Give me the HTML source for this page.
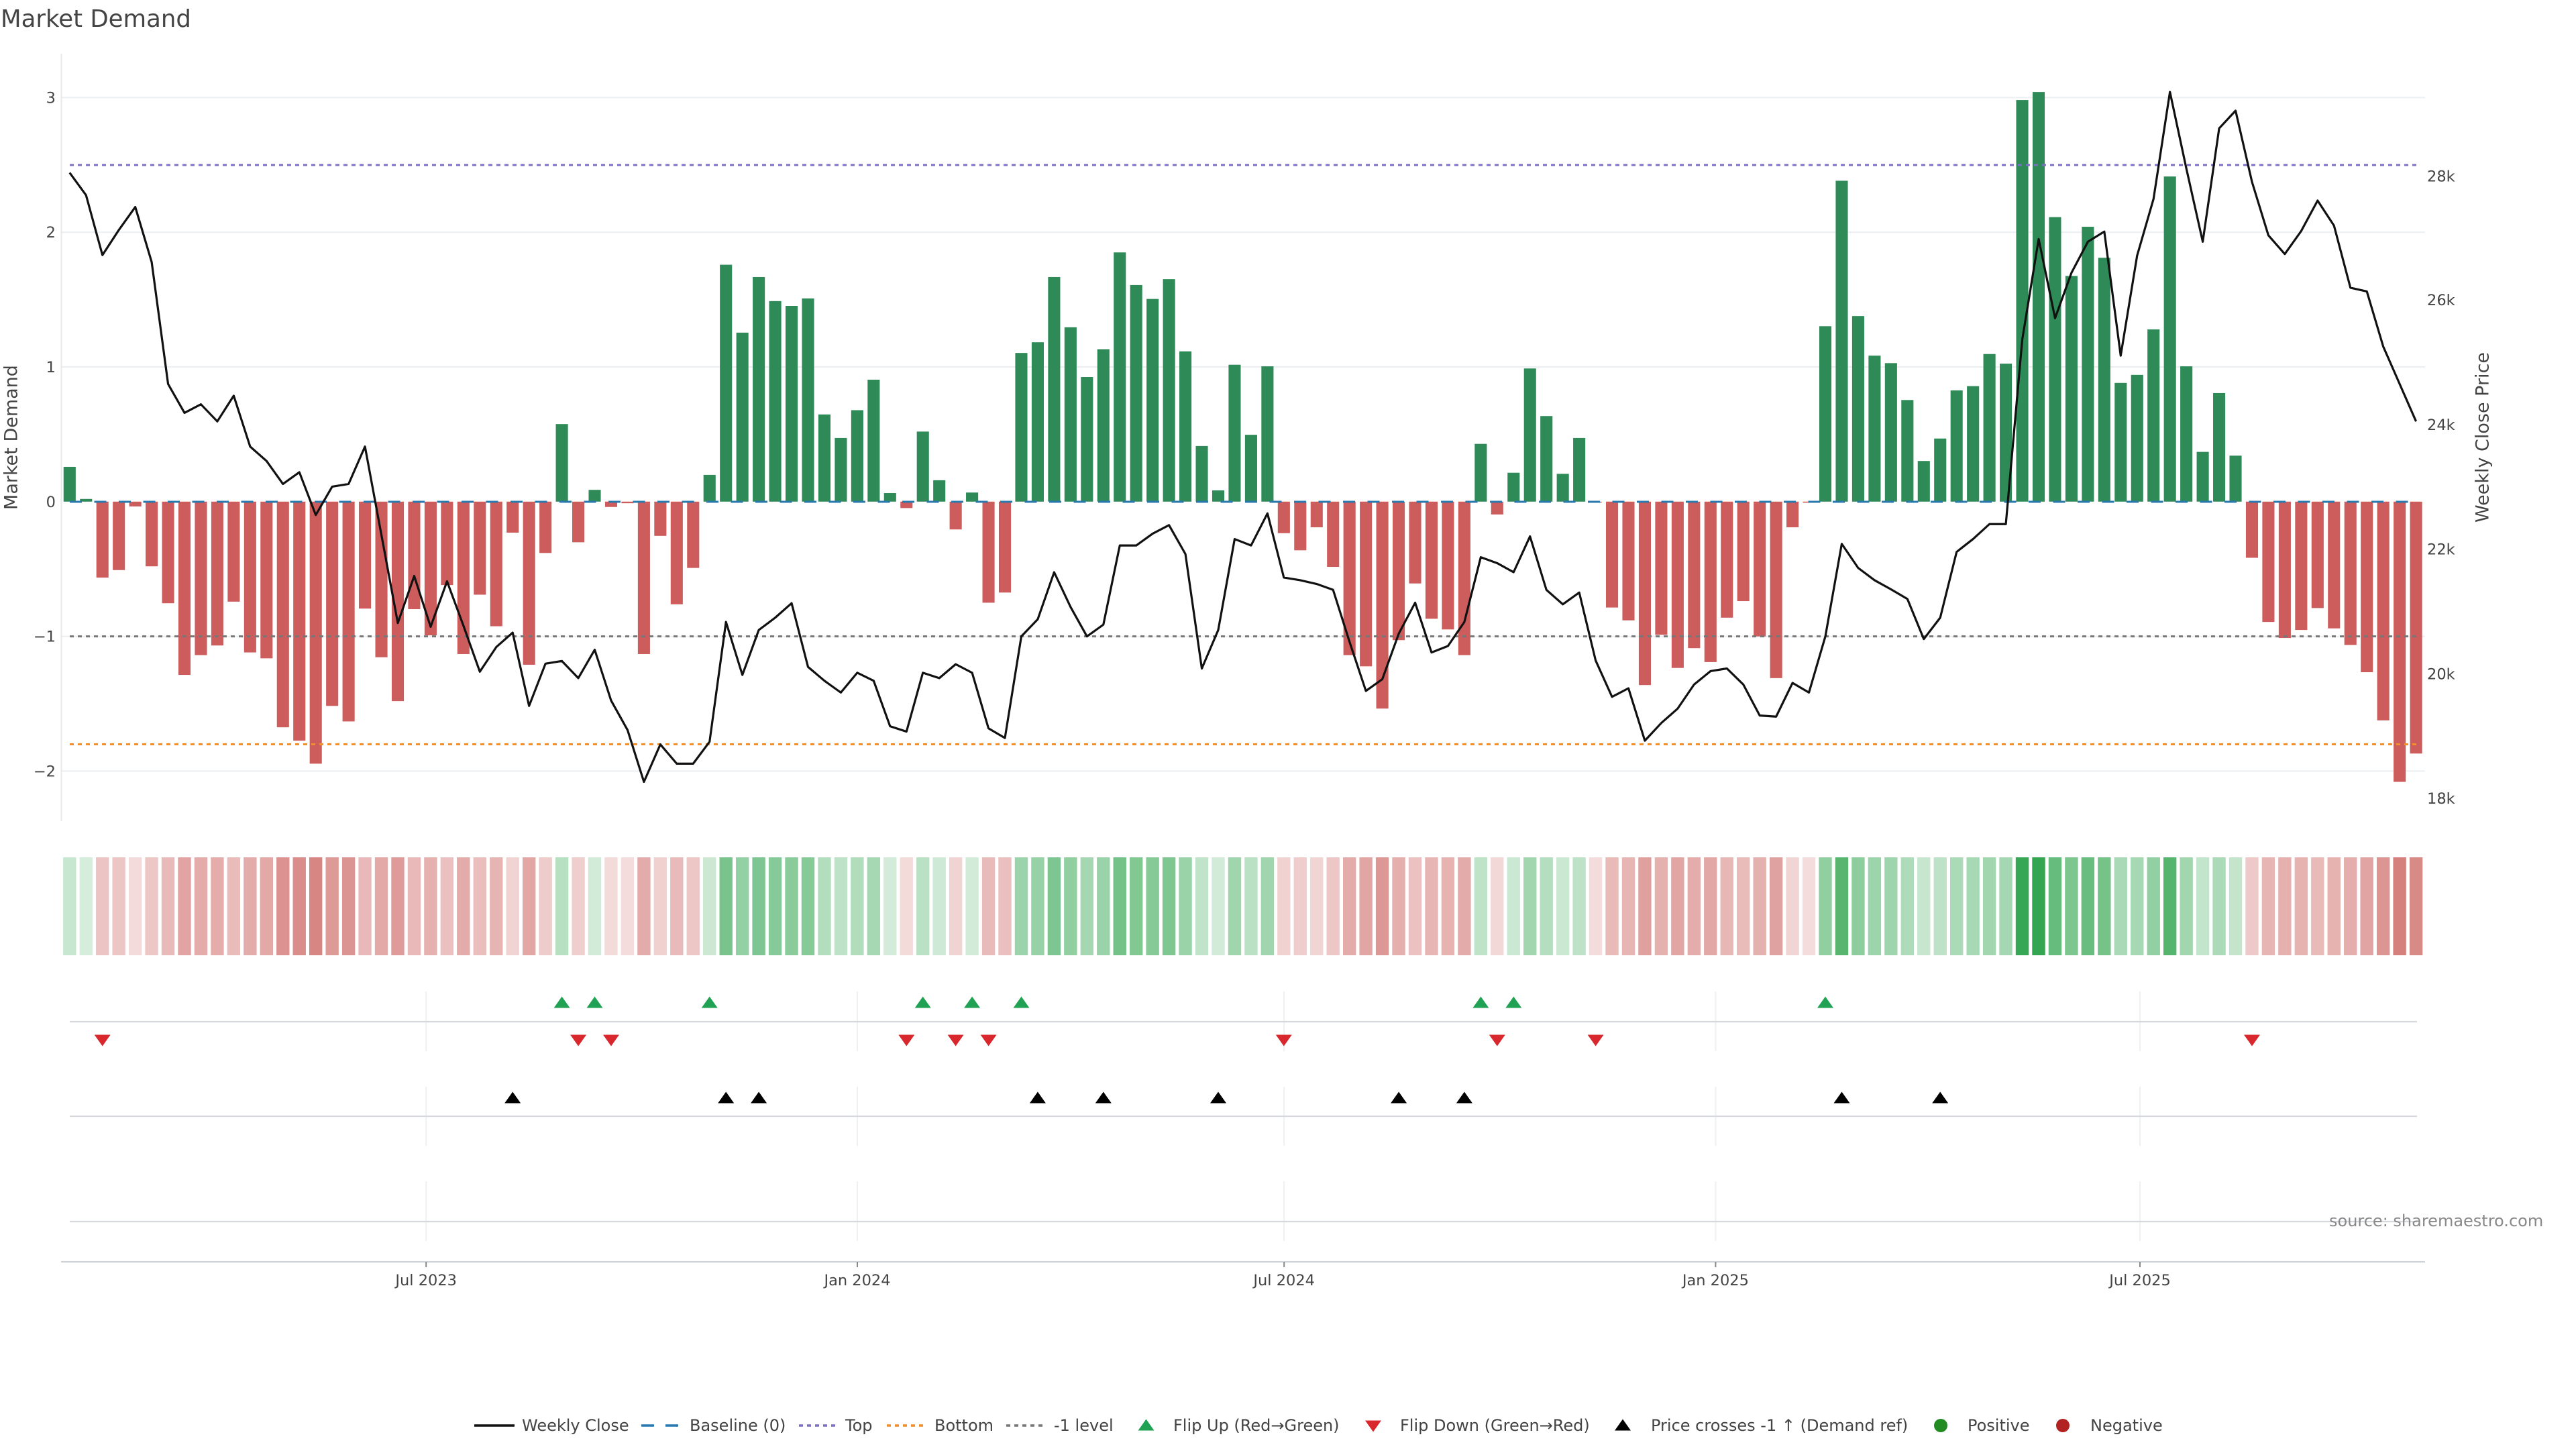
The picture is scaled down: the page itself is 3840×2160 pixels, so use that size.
<!DOCTYPE html>
<html><head><meta charset="utf-8"><style>
html,body{margin:0;padding:0;background:#fff}
svg{display:block}
text{font-family:"DejaVu Sans","Liberation Sans",sans-serif;fill:#444}
.g{fill:#2e8b57}.r{fill:#cd5c5c}
.hg{fill:#32a550}.hr{fill:#c65450}
</style></head><body>
<svg width="3840" height="2160" viewBox="0 0 3840 2160" xmlns="http://www.w3.org/2000/svg">
<defs>
<path id="tu" d="M-12,8.5L12,8.5L0,-8.5Z"/>
<path id="td" d="M-12,-8.5L12,-8.5L0,8.5Z"/>
</defs>
<rect width="3840" height="2160" fill="#fff"/>
<text x="1" y="40" font-size="35.5">Market Demand</text>

<!-- grid -->
<g stroke="#eceff2" stroke-width="2">
<line x1="91" y1="145.4" x2="3615" y2="145.4"/>
<line x1="91" y1="346.2" x2="3615" y2="346.2"/>
<line x1="91" y1="547" x2="3615" y2="547"/>
<line x1="91" y1="948.6" x2="3615" y2="948.6"/>
<line x1="91" y1="1149.4" x2="3615" y2="1149.4"/>
</g>
<line x1="91.5" y1="80" x2="91.5" y2="1224" stroke="#e6e8eb" stroke-width="2"/>

<!-- left ticks -->
<g font-size="22.5" text-anchor="end">
<text x="83" y="153.4">3</text>
<text x="83" y="354.2">2</text>
<text x="83" y="555">1</text>
<text x="83" y="755.8">0</text>
<text x="83" y="956.6">−1</text>
<text x="83" y="1157.4">−2</text>
</g>
<text transform="translate(17,652) rotate(-90)" text-anchor="middle" dominant-baseline="central" font-size="27">Market Demand</text>
<!-- right ticks -->
<g font-size="22.5">
<text x="3618" y="270.3">28k</text>
<text x="3618" y="455.2">26k</text>
<text x="3618" y="641">24k</text>
<text x="3618" y="826.7">22k</text>
<text x="3618" y="1012.5">20k</text>
<text x="3618" y="1198.2">18k</text>
</g>
<text transform="translate(3701,652) rotate(-90)" text-anchor="middle" dominant-baseline="central" font-size="27">Weekly Close Price</text>

<!-- bars -->
<g transform="translate(103.8,0) scale(24.46,0.797194)">
<rect class="g" x="-.37" y="873" width=".74" height="65"/>
<rect class="g" x=".63" y="933" width=".74" height="5"/>
<rect class="r" x="1.63" y="938" width=".74" height="142"/>
<rect class="r" x="2.63" y="938" width=".74" height="128"/>
<rect class="r" x="3.63" y="938" width=".74" height="9"/>
<rect class="r" x="4.63" y="938" width=".74" height="121"/>
<rect class="r" x="5.63" y="938" width=".74" height="190"/>
<rect class="r" x="6.63" y="938" width=".74" height="324"/>
<rect class="r" x="7.63" y="938" width=".74" height="287"/>
<rect class="r" x="8.63" y="938" width=".74" height="269"/>
<rect class="r" x="9.63" y="938" width=".74" height="187"/>
<rect class="r" x="10.63" y="938" width=".74" height="282"/>
<rect class="r" x="11.63" y="938" width=".74" height="293"/>
<rect class="r" x="12.63" y="938" width=".74" height="422"/>
<rect class="r" x="13.63" y="938" width=".74" height="447"/>
<rect class="r" x="14.63" y="938" width=".74" height="490"/>
<rect class="r" x="15.63" y="938" width=".74" height="382"/>
<rect class="r" x="16.63" y="938" width=".74" height="411"/>
<rect class="r" x="17.63" y="938" width=".74" height="200"/>
<rect class="r" x="18.63" y="938" width=".74" height="291"/>
<rect class="r" x="19.63" y="938" width=".74" height="373"/>
<rect class="r" x="20.63" y="938" width=".74" height="201"/>
<rect class="r" x="21.63" y="938" width=".74" height="250"/>
<rect class="r" x="22.63" y="938" width=".74" height="156"/>
<rect class="r" x="23.63" y="938" width=".74" height="285"/>
<rect class="r" x="24.63" y="938" width=".74" height="174"/>
<rect class="r" x="25.63" y="938" width=".74" height="233"/>
<rect class="r" x="26.63" y="938" width=".74" height="58"/>
<rect class="r" x="27.63" y="938" width=".74" height="305"/>
<rect class="r" x="28.63" y="938" width=".74" height="96"/>
<rect class="g" x="29.63" y="793" width=".74" height="145"/>
<rect class="r" x="30.63" y="938" width=".74" height="76"/>
<rect class="g" x="31.63" y="916" width=".74" height="22"/>
<rect class="r" x="32.63" y="938" width=".74" height="10"/>
<rect class="r" x="33.63" y="938" width=".74" height="3"/>
<rect class="r" x="34.63" y="938" width=".74" height="285"/>
<rect class="r" x="35.63" y="938" width=".74" height="64"/>
<rect class="r" x="36.63" y="938" width=".74" height="192"/>
<rect class="r" x="37.63" y="938" width=".74" height="124"/>
<rect class="g" x="38.63" y="888" width=".74" height="50"/>
<rect class="g" x="39.63" y="495" width=".74" height="443"/>
<rect class="g" x="40.63" y="622" width=".74" height="316"/>
<rect class="g" x="41.63" y="518" width=".74" height="420"/>
<rect class="g" x="42.63" y="563" width=".74" height="375"/>
<rect class="g" x="43.63" y="572" width=".74" height="366"/>
<rect class="g" x="44.63" y="558" width=".74" height="380"/>
<rect class="g" x="45.63" y="775" width=".74" height="163"/>
<rect class="g" x="46.63" y="819" width=".74" height="119"/>
<rect class="g" x="47.63" y="767" width=".74" height="171"/>
<rect class="g" x="48.63" y="710" width=".74" height="228"/>
<rect class="g" x="49.63" y="922" width=".74" height="16"/>
<rect class="r" x="50.63" y="938" width=".74" height="12"/>
<rect class="g" x="51.63" y="807" width=".74" height="131"/>
<rect class="g" x="52.63" y="898" width=".74" height="40"/>
<rect class="r" x="53.63" y="938" width=".74" height="52"/>
<rect class="g" x="54.63" y="921" width=".74" height="17"/>
<rect class="r" x="55.63" y="938" width=".74" height="189"/>
<rect class="r" x="56.63" y="938" width=".74" height="170"/>
<rect class="g" x="57.63" y="660" width=".74" height="278"/>
<rect class="g" x="58.63" y="640" width=".74" height="298"/>
<rect class="g" x="59.63" y="518" width=".74" height="420"/>
<rect class="g" x="60.63" y="612" width=".74" height="326"/>
<rect class="g" x="61.63" y="705" width=".74" height="233"/>
<rect class="g" x="62.63" y="653" width=".74" height="285"/>
<rect class="g" x="63.63" y="472" width=".74" height="466"/>
<rect class="g" x="64.63" y="533" width=".74" height="405"/>
<rect class="g" x="65.63" y="559" width=".74" height="379"/>
<rect class="g" x="66.63" y="522" width=".74" height="416"/>
<rect class="g" x="67.63" y="657" width=".74" height="281"/>
<rect class="g" x="68.63" y="834" width=".74" height="104"/>
<rect class="g" x="69.63" y="917" width=".74" height="21"/>
<rect class="g" x="70.63" y="682" width=".74" height="256"/>
<rect class="g" x="71.63" y="813" width=".74" height="125"/>
<rect class="g" x="72.63" y="685" width=".74" height="253"/>
<rect class="r" x="73.63" y="938" width=".74" height="59"/>
<rect class="r" x="74.63" y="938" width=".74" height="91"/>
<rect class="r" x="75.63" y="938" width=".74" height="48"/>
<rect class="r" x="76.63" y="938" width=".74" height="122"/>
<rect class="r" x="77.63" y="938" width=".74" height="287"/>
<rect class="r" x="78.63" y="938" width=".74" height="308"/>
<rect class="r" x="79.63" y="938" width=".74" height="387"/>
<rect class="r" x="80.63" y="938" width=".74" height="259"/>
<rect class="r" x="81.63" y="938" width=".74" height="153"/>
<rect class="r" x="82.63" y="938" width=".74" height="219"/>
<rect class="r" x="83.63" y="938" width=".74" height="239"/>
<rect class="r" x="84.63" y="938" width=".74" height="287"/>
<rect class="g" x="85.63" y="830" width=".74" height="108"/>
<rect class="r" x="86.63" y="938" width=".74" height="24"/>
<rect class="g" x="87.63" y="884" width=".74" height="54"/>
<rect class="g" x="88.63" y="689" width=".74" height="249"/>
<rect class="g" x="89.63" y="778" width=".74" height="160"/>
<rect class="g" x="90.63" y="886" width=".74" height="52"/>
<rect class="g" x="91.63" y="819" width=".74" height="119"/>
<rect class="r" x="92.63" y="938" width=".74" height="2"/>
<rect class="r" x="93.63" y="938" width=".74" height="198"/>
<rect class="r" x="94.63" y="938" width=".74" height="222"/>
<rect class="r" x="95.63" y="938" width=".74" height="343"/>
<rect class="r" x="96.63" y="938" width=".74" height="249"/>
<rect class="r" x="97.63" y="938" width=".74" height="311"/>
<rect class="r" x="98.63" y="938" width=".74" height="274"/>
<rect class="r" x="99.63" y="938" width=".74" height="300"/>
<rect class="r" x="100.63" y="938" width=".74" height="217"/>
<rect class="r" x="101.63" y="938" width=".74" height="186"/>
<rect class="r" x="102.63" y="938" width=".74" height="252"/>
<rect class="r" x="103.63" y="938" width=".74" height="330"/>
<rect class="r" x="104.63" y="938" width=".74" height="48"/>
<rect class="r" x="105.63" y="938" width=".74" height="2"/>
<rect class="g" x="106.63" y="610" width=".74" height="328"/>
<rect class="g" x="107.63" y="338" width=".74" height="600"/>
<rect class="g" x="108.63" y="591" width=".74" height="347"/>
<rect class="g" x="109.63" y="665" width=".74" height="273"/>
<rect class="g" x="110.63" y="679" width=".74" height="259"/>
<rect class="g" x="111.63" y="748" width=".74" height="190"/>
<rect class="g" x="112.63" y="862" width=".74" height="76"/>
<rect class="g" x="113.63" y="820" width=".74" height="118"/>
<rect class="g" x="114.63" y="730" width=".74" height="208"/>
<rect class="g" x="115.63" y="722" width=".74" height="216"/>
<rect class="g" x="116.63" y="662" width=".74" height="276"/>
<rect class="g" x="117.63" y="680" width=".74" height="258"/>
<rect class="g" x="118.63" y="187" width=".74" height="751"/>
<rect class="g" x="119.63" y="172" width=".74" height="766"/>
<rect class="g" x="120.63" y="406" width=".74" height="532"/>
<rect class="g" x="121.63" y="516" width=".74" height="422"/>
<rect class="g" x="122.63" y="424" width=".74" height="514"/>
<rect class="g" x="123.63" y="482" width=".74" height="456"/>
<rect class="g" x="124.63" y="716" width=".74" height="222"/>
<rect class="g" x="125.63" y="701" width=".74" height="237"/>
<rect class="g" x="126.63" y="616" width=".74" height="322"/>
<rect class="g" x="127.63" y="330" width=".74" height="608"/>
<rect class="g" x="128.63" y="685" width=".74" height="253"/>
<rect class="g" x="129.63" y="845" width=".74" height="93"/>
<rect class="g" x="130.63" y="735" width=".74" height="203"/>
<rect class="g" x="131.63" y="852" width=".74" height="86"/>
<rect class="r" x="132.63" y="938" width=".74" height="105"/>
<rect class="r" x="133.63" y="938" width=".74" height="225"/>
<rect class="r" x="134.63" y="938" width=".74" height="255"/>
<rect class="r" x="135.63" y="938" width=".74" height="240"/>
<rect class="r" x="136.63" y="938" width=".74" height="199"/>
<rect class="r" x="137.63" y="938" width=".74" height="237"/>
<rect class="r" x="138.63" y="938" width=".74" height="268"/>
<rect class="r" x="139.63" y="938" width=".74" height="319"/>
<rect class="r" x="140.63" y="938" width=".74" height="409"/>
<rect class="r" x="141.63" y="938" width=".74" height="524"/>
<rect class="r" x="142.63" y="938" width=".74" height="471"/>
</g>

<!-- reference lines -->
<line x1="104" y1="748" x2="3603" y2="748" stroke="#2b78ad" stroke-width="3" stroke-dasharray="18,18.5"/>
<line x1="104" y1="246" x2="3603" y2="246" stroke="#7b6fc6" stroke-width="3" stroke-dasharray="6,6"/>
<line x1="104" y1="1109.5" x2="3603" y2="1109.5" stroke="#f28e2b" stroke-width="3" stroke-dasharray="6,6"/>
<line x1="104" y1="948.6" x2="3603" y2="948.6" stroke="#777" stroke-width="3" stroke-dasharray="6,6"/>

<!-- price line -->
<g transform="translate(103.8,0) scale(24.46,0.797194)">
<polyline fill="none" stroke="#111" stroke-width="3.2" vector-effect="non-scaling-stroke" stroke-linejoin="round" points="0,323 1,365 2,477 3,430 4,387 5,490 6,718 7,772 8,756 9,788 10,740 11,835 12,862 13,905 14,883 15,963 16,910 17,905 18,835 19,1000 20,1165 21,1077 22,1172 23,1087 24,1170 25,1256 26,1210 27,1183 28,1320 29,1241 30,1236 31,1268 32,1215 33,1310 34,1365 35,1462 36,1392 37,1428 38,1428 39,1387 40,1163 41,1262 42,1178 43,1155 44,1128 45,1247 46,1273 47,1295 48,1258 49,1273 50,1358 51,1368 52,1258 53,1268 54,1242 55,1258 56,1362 57,1380 58,1190 59,1158 60,1070 61,1135 62,1190 63,1168 64,1020 65,1020 66,998 67,982 68,1036 69,1250 70,1178 71,1008 72,1020 73,960 74,1080 75,1085 76,1092 77,1103 78,1200 79,1292 80,1270 81,1185 82,1127 83,1220 84,1208 85,1163 86,1042 87,1053 88,1070 89,1003 90,1103 91,1130 92,1108 93,1235 94,1303 95,1287 96,1385 97,1352 98,1325 99,1280 100,1255 101,1250 102,1280 103,1338 104,1340 105,1277 106,1295 107,1190 108,1017 109,1062 110,1085 111,1102 112,1120 113,1195 114,1155 115,1032 116,1008 117,980 118,980 119,635 120,447 121,595 122,510 123,452 124,433 125,665 126,478 127,372 128,172 129,315 130,452 131,240 132,207 133,340 134,440 135,475 136,432 137,375 138,422 139,538 140,545 141,648 142,718 143,788"/>
</g>

<!-- heat strip -->
<g transform="translate(103.8,1278) scale(24.46,1)">
<rect class="hg" x="-.397" width=".793" height="146" opacity=".267"/>
<rect class="hg" x=".603" width=".793" height="146" opacity=".205"/>
<rect class="hr" x="1.603" width=".793" height="146" opacity=".347"/>
<rect class="hr" x="2.603" width=".793" height="146" opacity=".332"/>
<rect class="hr" x="3.603" width=".793" height="146" opacity=".209"/>
<rect class="hr" x="4.603" width=".793" height="146" opacity=".325"/>
<rect class="hr" x="5.603" width=".793" height="146" opacity=".396"/>
<rect class="hr" x="6.603" width=".793" height="146" opacity=".534"/>
<rect class="hr" x="7.603" width=".793" height="146" opacity=".496"/>
<rect class="hr" x="8.603" width=".793" height="146" opacity=".477"/>
<rect class="hr" x="9.603" width=".793" height="146" opacity=".393"/>
<rect class="hr" x="10.603" width=".793" height="146" opacity=".490"/>
<rect class="hr" x="11.603" width=".793" height="146" opacity=".502"/>
<rect class="hr" x="12.603" width=".793" height="146" opacity=".635"/>
<rect class="hr" x="13.603" width=".793" height="146" opacity=".660"/>
<rect class="hr" x="14.603" width=".793" height="146" opacity=".705"/>
<rect class="hr" x="15.603" width=".793" height="146" opacity=".593"/>
<rect class="hr" x="16.603" width=".793" height="146" opacity=".623"/>
<rect class="hr" x="17.603" width=".793" height="146" opacity=".406"/>
<rect class="hr" x="18.603" width=".793" height="146" opacity=".500"/>
<rect class="hr" x="19.603" width=".793" height="146" opacity=".584"/>
<rect class="hr" x="20.603" width=".793" height="146" opacity=".407"/>
<rect class="hr" x="21.603" width=".793" height="146" opacity=".458"/>
<rect class="hr" x="22.603" width=".793" height="146" opacity=".361"/>
<rect class="hr" x="23.603" width=".793" height="146" opacity=".494"/>
<rect class="hr" x="24.603" width=".793" height="146" opacity=".379"/>
<rect class="hr" x="25.603" width=".793" height="146" opacity=".440"/>
<rect class="hr" x="26.603" width=".793" height="146" opacity=".260"/>
<rect class="hr" x="27.603" width=".793" height="146" opacity=".514"/>
<rect class="hr" x="28.603" width=".793" height="146" opacity=".299"/>
<rect class="hg" x="29.603" width=".793" height="146" opacity=".349"/>
<rect class="hr" x="30.603" width=".793" height="146" opacity=".278"/>
<rect class="hg" x="31.603" width=".793" height="146" opacity=".223"/>
<rect class="hr" x="32.603" width=".793" height="146" opacity=".210"/>
<rect class="hr" x="33.603" width=".793" height="146" opacity=".203"/>
<rect class="hr" x="34.603" width=".793" height="146" opacity=".494"/>
<rect class="hr" x="35.603" width=".793" height="146" opacity=".266"/>
<rect class="hr" x="36.603" width=".793" height="146" opacity=".398"/>
<rect class="hr" x="37.603" width=".793" height="146" opacity=".328"/>
<rect class="hg" x="38.603" width=".793" height="146" opacity=".252"/>
<rect class="hg" x="39.603" width=".793" height="146" opacity=".656"/>
<rect class="hg" x="40.603" width=".793" height="146" opacity=".525"/>
<rect class="hg" x="41.603" width=".793" height="146" opacity=".633"/>
<rect class="hg" x="42.603" width=".793" height="146" opacity=".586"/>
<rect class="hg" x="43.603" width=".793" height="146" opacity=".577"/>
<rect class="hg" x="44.603" width=".793" height="146" opacity=".591"/>
<rect class="hg" x="45.603" width=".793" height="146" opacity=".368"/>
<rect class="hg" x="46.603" width=".793" height="146" opacity=".323"/>
<rect class="hg" x="47.603" width=".793" height="146" opacity=".376"/>
<rect class="hg" x="48.603" width=".793" height="146" opacity=".435"/>
<rect class="hg" x="49.603" width=".793" height="146" opacity=".216"/>
<rect class="hr" x="50.603" width=".793" height="146" opacity=".212"/>
<rect class="hg" x="51.603" width=".793" height="146" opacity=".335"/>
<rect class="hg" x="52.603" width=".793" height="146" opacity=".241"/>
<rect class="hr" x="53.603" width=".793" height="146" opacity=".254"/>
<rect class="hg" x="54.603" width=".793" height="146" opacity=".218"/>
<rect class="hr" x="55.603" width=".793" height="146" opacity=".395"/>
<rect class="hr" x="56.603" width=".793" height="146" opacity=".375"/>
<rect class="hg" x="57.603" width=".793" height="146" opacity=".486"/>
<rect class="hg" x="58.603" width=".793" height="146" opacity=".507"/>
<rect class="hg" x="59.603" width=".793" height="146" opacity=".633"/>
<rect class="hg" x="60.603" width=".793" height="146" opacity=".536"/>
<rect class="hg" x="61.603" width=".793" height="146" opacity=".440"/>
<rect class="hg" x="62.603" width=".793" height="146" opacity=".494"/>
<rect class="hg" x="63.603" width=".793" height="146" opacity=".680"/>
<rect class="hg" x="64.603" width=".793" height="146" opacity=".617"/>
<rect class="hg" x="65.603" width=".793" height="146" opacity=".590"/>
<rect class="hg" x="66.603" width=".793" height="146" opacity=".628"/>
<rect class="hg" x="67.603" width=".793" height="146" opacity=".489"/>
<rect class="hg" x="68.603" width=".793" height="146" opacity=".307"/>
<rect class="hg" x="69.603" width=".793" height="146" opacity=".222"/>
<rect class="hg" x="70.603" width=".793" height="146" opacity=".464"/>
<rect class="hg" x="71.603" width=".793" height="146" opacity=".329"/>
<rect class="hg" x="72.603" width=".793" height="146" opacity=".461"/>
<rect class="hr" x="73.603" width=".793" height="146" opacity=".261"/>
<rect class="hr" x="74.603" width=".793" height="146" opacity=".294"/>
<rect class="hr" x="75.603" width=".793" height="146" opacity=".249"/>
<rect class="hr" x="76.603" width=".793" height="146" opacity=".326"/>
<rect class="hr" x="77.603" width=".793" height="146" opacity=".496"/>
<rect class="hr" x="78.603" width=".793" height="146" opacity=".517"/>
<rect class="hr" x="79.603" width=".793" height="146" opacity=".599"/>
<rect class="hr" x="80.603" width=".793" height="146" opacity=".467"/>
<rect class="hr" x="81.603" width=".793" height="146" opacity=".358"/>
<rect class="hr" x="82.603" width=".793" height="146" opacity=".426"/>
<rect class="hr" x="83.603" width=".793" height="146" opacity=".446"/>
<rect class="hr" x="84.603" width=".793" height="146" opacity=".496"/>
<rect class="hg" x="85.603" width=".793" height="146" opacity=".311"/>
<rect class="hr" x="86.603" width=".793" height="146" opacity=".225"/>
<rect class="hg" x="87.603" width=".793" height="146" opacity=".256"/>
<rect class="hg" x="88.603" width=".793" height="146" opacity=".456"/>
<rect class="hg" x="89.603" width=".793" height="146" opacity=".365"/>
<rect class="hg" x="90.603" width=".793" height="146" opacity=".254"/>
<rect class="hg" x="91.603" width=".793" height="146" opacity=".323"/>
<rect class="hr" x="92.603" width=".793" height="146" opacity=".202"/>
<rect class="hr" x="93.603" width=".793" height="146" opacity=".404"/>
<rect class="hr" x="94.603" width=".793" height="146" opacity=".429"/>
<rect class="hr" x="95.603" width=".793" height="146" opacity=".553"/>
<rect class="hr" x="96.603" width=".793" height="146" opacity=".456"/>
<rect class="hr" x="97.603" width=".793" height="146" opacity=".520"/>
<rect class="hr" x="98.603" width=".793" height="146" opacity=".482"/>
<rect class="hr" x="99.603" width=".793" height="146" opacity=".509"/>
<rect class="hr" x="100.603" width=".793" height="146" opacity=".424"/>
<rect class="hr" x="101.603" width=".793" height="146" opacity=".392"/>
<rect class="hr" x="102.603" width=".793" height="146" opacity=".460"/>
<rect class="hr" x="103.603" width=".793" height="146" opacity=".540"/>
<rect class="hr" x="104.603" width=".793" height="146" opacity=".249"/>
<rect class="hr" x="105.603" width=".793" height="146" opacity=".202"/>
<rect class="hg" x="106.603" width=".793" height="146" opacity=".538"/>
<rect class="hg" x="107.603" width=".793" height="146" opacity=".818"/>
<rect class="hg" x="108.603" width=".793" height="146" opacity=".557"/>
<rect class="hg" x="109.603" width=".793" height="146" opacity=".481"/>
<rect class="hg" x="110.603" width=".793" height="146" opacity=".467"/>
<rect class="hg" x="111.603" width=".793" height="146" opacity=".396"/>
<rect class="hg" x="112.603" width=".793" height="146" opacity=".278"/>
<rect class="hg" x="113.603" width=".793" height="146" opacity=".322"/>
<rect class="hg" x="114.603" width=".793" height="146" opacity=".414"/>
<rect class="hg" x="115.603" width=".793" height="146" opacity=".422"/>
<rect class="hg" x="116.603" width=".793" height="146" opacity=".460"/>
<rect class="hg" x="117.603" width=".793" height="146" opacity=".440"/>
<rect class="hg" x="118.603" width=".793" height="146" opacity=".974"/>
<rect class="hg" x="119.603" width=".793" height="146" opacity=".989"/>
<rect class="hg" x="120.603" width=".793" height="146" opacity=".748"/>
<rect class="hg" x="121.603" width=".793" height="146" opacity=".635"/>
<rect class="hg" x="122.603" width=".793" height="146" opacity=".729"/>
<rect class="hg" x="123.603" width=".793" height="146" opacity=".670"/>
<rect class="hg" x="124.603" width=".793" height="146" opacity=".420"/>
<rect class="hg" x="125.603" width=".793" height="146" opacity=".435"/>
<rect class="hg" x="126.603" width=".793" height="146" opacity=".532"/>
<rect class="hg" x="127.603" width=".793" height="146" opacity=".826"/>
<rect class="hg" x="128.603" width=".793" height="146" opacity=".455"/>
<rect class="hg" x="129.603" width=".793" height="146" opacity=".296"/>
<rect class="hg" x="130.603" width=".793" height="146" opacity=".409"/>
<rect class="hg" x="131.603" width=".793" height="146" opacity=".289"/>
<rect class="hr" x="132.603" width=".793" height="146" opacity=".308"/>
<rect class="hr" x="133.603" width=".793" height="146" opacity=".432"/>
<rect class="hr" x="134.603" width=".793" height="146" opacity=".463"/>
<rect class="hr" x="135.603" width=".793" height="146" opacity=".447"/>
<rect class="hr" x="136.603" width=".793" height="146" opacity=".405"/>
<rect class="hr" x="137.603" width=".793" height="146" opacity=".444"/>
<rect class="hr" x="138.603" width=".793" height="146" opacity=".476"/>
<rect class="hr" x="139.603" width=".793" height="146" opacity=".529"/>
<rect class="hr" x="140.603" width=".793" height="146" opacity=".621"/>
<rect class="hr" x="141.603" width=".793" height="146" opacity=".740"/>
<rect class="hr" x="142.603" width=".793" height="146" opacity=".685"/>
</g>

<!-- marker subplots grid -->
<g stroke="#eef0f3" stroke-width="2">
<line x1="635.2" y1="1478" x2="635.2" y2="1567"/><line x1="1278" y1="1478" x2="1278" y2="1567"/><line x1="1914.2" y1="1478" x2="1914.2" y2="1567"/><line x1="2557.4" y1="1478" x2="2557.4" y2="1567"/><line x1="3190" y1="1478" x2="3190" y2="1567"/>
<line x1="635.2" y1="1620" x2="635.2" y2="1708"/><line x1="1278" y1="1620" x2="1278" y2="1708"/><line x1="1914.2" y1="1620" x2="1914.2" y2="1708"/><line x1="2557.4" y1="1620" x2="2557.4" y2="1708"/><line x1="3190" y1="1620" x2="3190" y2="1708"/>
<line x1="635.2" y1="1761" x2="635.2" y2="1850"/><line x1="1278" y1="1761" x2="1278" y2="1850"/><line x1="1914.2" y1="1761" x2="1914.2" y2="1850"/><line x1="2557.4" y1="1761" x2="2557.4" y2="1850"/><line x1="3190" y1="1761" x2="3190" y2="1850"/>
</g>
<g stroke="#d5d9de" stroke-width="2.3">
<line x1="104" y1="1523" x2="3603" y2="1523"/>
<line x1="104" y1="1664" x2="3603" y2="1664"/>
<line x1="104" y1="1821" x2="3603" y2="1821"/>
</g>
<line x1="91" y1="1881" x2="3615" y2="1881" stroke="#cfd3d8" stroke-width="2.3"/>
<g stroke="#888" stroke-width="2">
<line x1="635.2" y1="1881" x2="635.2" y2="1889"/><line x1="1278" y1="1881" x2="1278" y2="1889"/><line x1="1914.2" y1="1881" x2="1914.2" y2="1889"/><line x1="2557.4" y1="1881" x2="2557.4" y2="1889"/><line x1="3190" y1="1881" x2="3190" y2="1889"/>
</g>
<g font-size="22.5" text-anchor="middle">
<text x="635.2" y="1916">Jul 2023</text>
<text x="1278" y="1916">Jan 2024</text>
<text x="1914.2" y="1916">Jul 2024</text>
<text x="2557.4" y="1916">Jan 2025</text>
<text x="3190" y="1916">Jul 2025</text>
</g>

<!-- markers -->
<g fill="#21a153">
<use href="#tu" x="837.6" y="1494"/><use href="#tu" x="886.5" y="1494"/><use href="#tu" x="1057.7" y="1494"/><use href="#tu" x="1375.7" y="1494"/><use href="#tu" x="1449.1" y="1494"/><use href="#tu" x="1522.5" y="1494"/><use href="#tu" x="2207.4" y="1494"/><use href="#tu" x="2256.3" y="1494"/><use href="#tu" x="2721" y="1494"/>
</g>
<g fill="#d8282d">
<use href="#td" x="152.7" y="1551"/><use href="#td" x="862.1" y="1551"/><use href="#td" x="911" y="1551"/><use href="#td" x="1351.3" y="1551"/><use href="#td" x="1424.6" y="1551"/><use href="#td" x="1473.6" y="1551"/><use href="#td" x="1913.8" y="1551"/><use href="#td" x="2231.8" y="1551"/><use href="#td" x="2378.6" y="1551"/><use href="#td" x="3357" y="1551"/>
</g>
<g fill="#000">
<use href="#tu" x="764.2" y="1636"/><use href="#tu" x="1082.2" y="1636"/><use href="#tu" x="1131.1" y="1636"/><use href="#tu" x="1546.9" y="1636"/><use href="#tu" x="1644.8" y="1636"/><use href="#tu" x="1816" y="1636"/><use href="#tu" x="2085.1" y="1636"/><use href="#tu" x="2182.9" y="1636"/><use href="#tu" x="2745.5" y="1636"/><use href="#tu" x="2892.2" y="1636"/>
</g>

<text x="3472" y="1828" font-size="24" style="fill:#888">source: sharemaestro.com</text>

<!-- legend -->
<line x1="707" y1="2125" x2="767" y2="2125" stroke="#111" stroke-width="3.5"/>
<line x1="956" y1="2125" x2="1012" y2="2125" stroke="#2b78ad" stroke-width="3.5" stroke-dasharray="19,17"/>
<line x1="1191" y1="2125" x2="1246" y2="2125" stroke="#7b6fc6" stroke-width="3.5" stroke-dasharray="6,6"/>
<line x1="1322" y1="2125" x2="1377" y2="2125" stroke="#f28e2b" stroke-width="3.5" stroke-dasharray="6,6"/>
<line x1="1500" y1="2125" x2="1555" y2="2125" stroke="#777" stroke-width="3.5" stroke-dasharray="6,6"/>
<use href="#tu" x="1708.5" y="2124" fill="#21a153"/>
<use href="#td" x="2047" y="2126" fill="#d8282d"/>
<use href="#tu" x="2419" y="2124" fill="#000"/>
<circle cx="2893" cy="2125" r="10" fill="#228b22"/>
<circle cx="3075" cy="2125" r="10" fill="#b22222"/>
<g font-size="24">
<text x="778" y="2133">Weekly Close</text>
<text x="1028" y="2133">Baseline (0)</text>
<text x="1260" y="2133">Top</text>
<text x="1393" y="2133">Bottom</text>
<text x="1571" y="2133">-1 level</text>
<text x="1749" y="2133">Flip Up (Red→Green)</text>
<text x="2087" y="2133">Flip Down (Green→Red)</text>
<text x="2461" y="2133">Price crosses -1 ↑ (Demand ref)</text>
<text x="2933" y="2133">Positive</text>
<text x="3116" y="2133">Negative</text>
</g>
</svg>
</body></html>
